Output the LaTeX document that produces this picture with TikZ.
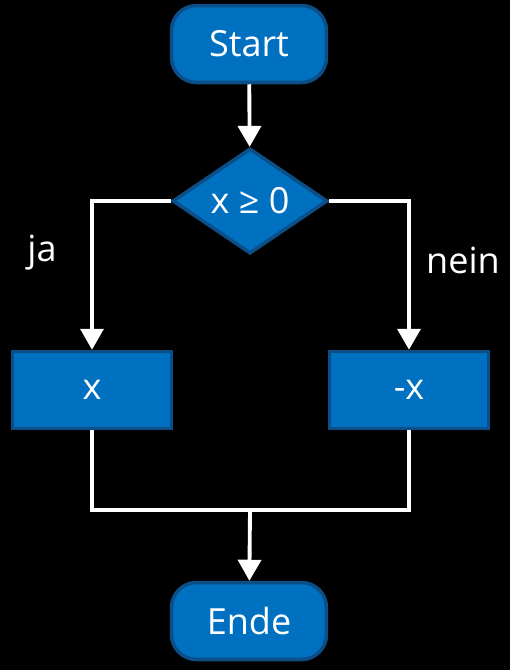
\documentclass[tikz,border=0pt]{standalone}
\usepackage{fontspec}
\setmainfont{Open Sans}
\usepackage{tikz}
\usetikzlibrary{arrows.meta,shapes.geometric}

\definecolor{boxfill}{RGB}{0,112,192}
\definecolor{boxline}{RGB}{12,78,136}

\begin{document}
\begin{tikzpicture}[
    x=0.02cm, y=-0.02cm,
    every node/.style={font=\fontsize{20.5}{24}\selectfont, text=white},
    terminal/.style={draw=boxline, fill=boxfill, line width=2pt, rounded corners=0.5cm,
        minimum width=3.1cm, minimum height=1.54cm},
    decision/.style={diamond, draw=boxline, fill=boxfill, line width=2pt,
        minimum width=3.1cm, minimum height=2cm, inner sep=0pt},
    process/.style={draw=boxline, fill=boxfill, line width=2pt,
        minimum width=3.18cm, minimum height=1.54cm},
    flowline/.style={white, line width=2.2pt},
    flowarrow/.style={flowline, -{Triangle[width=0.46cm, length=0.42cm]}}
]

% ---------- Background ----------
\fill[black] (0,0) rectangle (510,670);
\useasboundingbox (0,0) rectangle (510,670);

% ---------- Nodes ----------
\node[terminal] (start) at (249,44) {Start};
\node[decision] (cond) at (250,201) {x ≥ 0};
\node[process] (pos) at (92,390) {x};
\node[process] (neg) at (409,390) {-x};
\node[terminal] (ende) at (249,621) {Ende};

\node (ja) at (42,253) {ja};
\node (nein) at (463,260) {nein};

\coordinate (merge) at (250,510);

% ---------- Connectors ----------
\draw[flowarrow] (start) -- (cond);
\draw[flowarrow] (cond.west) -| (pos);
\draw[flowarrow] (cond.east) -| (neg);

\draw[flowline] (pos.south) |- (merge) -| (neg.south);
\draw[flowarrow] (merge) -- (ende);

\end{tikzpicture}
\end{document}
